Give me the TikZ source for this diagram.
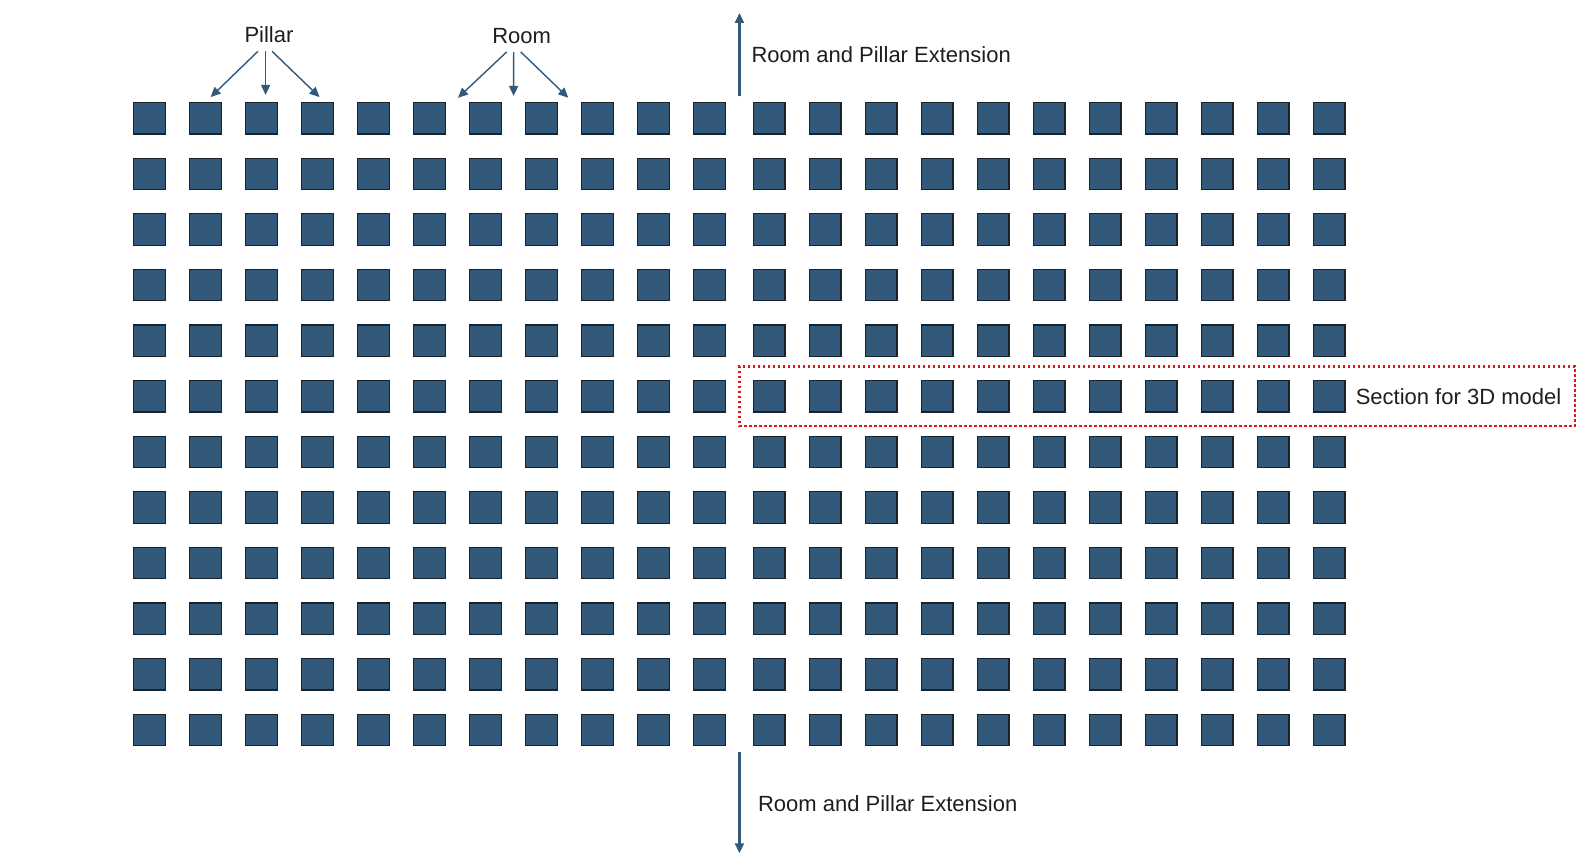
\documentclass[tikz,border=0pt]{standalone}
\usepackage{fontspec}
\setmainfont{Liberation Sans}
\usepackage{xcolor}
\usepackage{tikz}
\usetikzlibrary{arrows.meta, positioning, calc, fit}

\definecolor{pillarblue}{RGB}{51,89,122}
\definecolor{pillaredge}{RGB}{22,34,46}
\definecolor{labelgray}{RGB}{30,30,30}
\definecolor{secred}{RGB}{226,24,24}

\begin{document}
\begin{tikzpicture}[
        x=1pt, y=-1pt, % image pixels, y grows downwards
        pillar/.style={rectangle, draw=pillaredge, fill=pillarblue, line width=1.2pt,
                       minimum size=31.5pt, inner sep=0pt},
        tag/.style={font=\fontsize{22}{26}\selectfont, text=labelgray, inner sep=0pt},
        arrow/.style={draw=pillarblue, line width=1.4pt, -{Triangle[length=10pt, width=9pt]}},
        bigarrow/.style={arrow, line width=2.2pt},
        secbox/.style={draw=secred, line width=2.5pt, dash pattern=on 2.5pt off 2.5pt, inner sep=13.5pt}
      ]
      \useasboundingbox (0,0) rectangle (1585,856);

      % --- Pillar grid (wider aisle after column 11) ---
      \foreach \r in {1,...,12} {
        \foreach \c in {1,...,11}
          \node (sq-\r-\c) [pillar] at ({149.6+(\c-1)*56}, {118.3+(\r-1)*55.6}) {};
        \foreach \c in {12,...,22}
          \node (sq-\r-\c) [pillar] at ({769.2+(\c-12)*56}, {118.3+(\r-1)*55.6}) {};
      }

      % --- Labels on top ---
      \node (pil) [tag] at (269,35) {Pillar};
      \node (room) [tag] at (521.7,36) {Room};

      \coordinate (pil-2) at ($(sq-1-2.north)+(0,0)$);
      \coordinate (pil-3) at ($(sq-1-3.north)+(4,0)$);
      \coordinate (pil-4) at ($(sq-1-4.north)+(7,0)$);
      \draw [arrow, shorten >=7pt] ($(pil.south)+(-11,8)$) -- (pil-2);
      \draw [arrow, shorten >=7pt] ($(pil.south)+(-3.4,8)$) -- (pil-3);
      \draw [arrow, shorten >=7pt] ($(pil.south)+(3,8)$) -- (pil-4);

      \foreach \c/\n/\dx in {6/7/-4, 7/8/0, 8/9/3}
        \coordinate (gap-\c) at ($(sq-1-\c.north east)!0.5!(sq-1-\n.north west)+(\dx,0)$);
      \draw [arrow, shorten >=6pt] ($(room.south)+(-15,8)$) -- (gap-6);
      \draw [arrow, shorten >=6pt] ($(room.south)+(-8,8)$) -- (gap-7);
      \draw [arrow, shorten >=6pt] ($(room.south)+(-1,8)$) -- (gap-8);

      % --- Extension arrows along the aisle ---
      \coordinate (aisle-top) at ($(sq-1-11.north east)!0.5!(sq-1-12.north west)$);
      \coordinate (aisle-bot) at ($(sq-12-11.south east)!0.5!(sq-12-12.south west)$);
      \coordinate (ext-up) at ($(aisle-top)+(0,-89)$);
      \coordinate (ext-down) at ($(aisle-bot)+(0,107)$);
      \draw [bigarrow] ($(aisle-top)+(0,-5.5)$) -- (ext-up);
      \draw [bigarrow] ($(aisle-bot)+(0,6)$) -- (ext-down);
      \node (ext-top-txt) [tag, anchor=west] at ($(aisle-top)+(12,-47)$) {Room and Pillar Extension};
      \node (ext-bot-txt) [tag, anchor=west] at ($(aisle-bot)+(18.5,57)$) {Room and Pillar Extension};

      % --- Section used for the 3D model ---
      \node (sec) [tag, right=10pt of sq-6-22] {Section for 3D model};
      \node (sec-box) [secbox, fit=(sq-6-12) (sec)] {};

    \end{tikzpicture}
\end{document}
